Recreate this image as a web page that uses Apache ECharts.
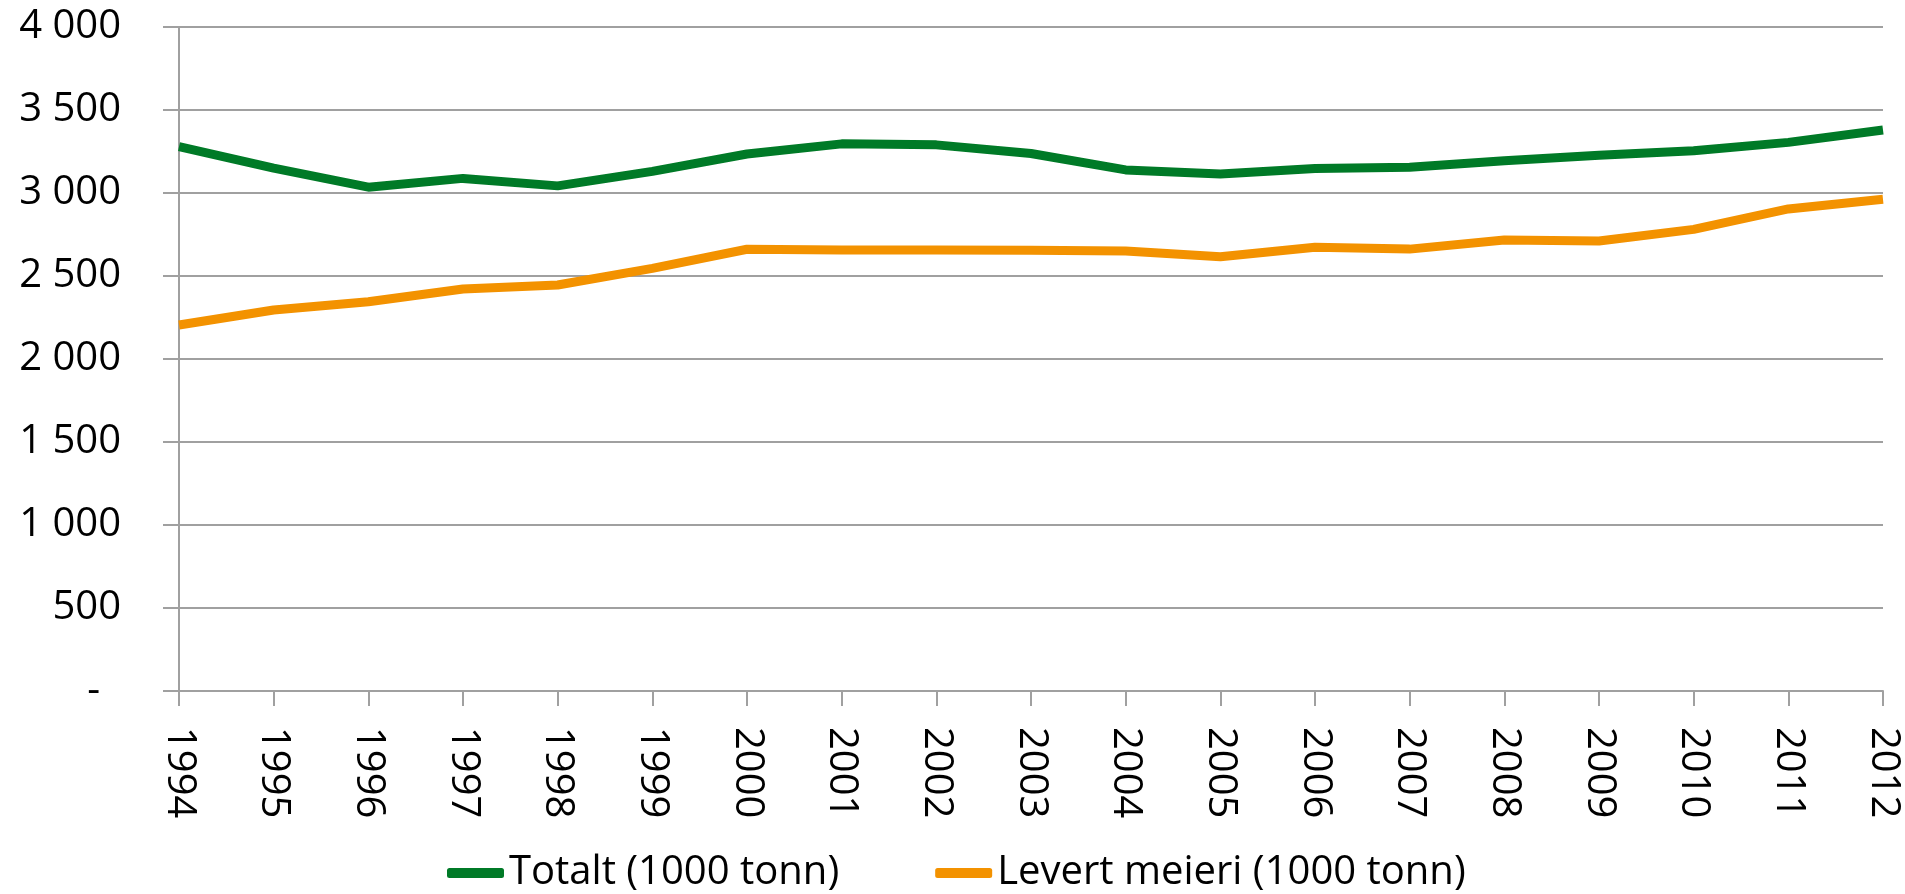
<!DOCTYPE html>
<html>
<head>
<meta charset="utf-8">
<script src="https://cdn.jsdelivr.net/npm/echarts@6/dist/echarts.min.js"></script>
<style>
  html, body { margin: 0; padding: 0; background: #fff; }
  #chart { width: 1905px; height: 894px; }
</style>
</head>
<body>
<div id="chart"></div>
<script>
// Melkeproduksjon 1994-2012
const years = ['1994', '1995', '1996', '1997', '1998', '1999', '2000', '2001', '2002', '2003',
    '2004', '2005', '2006', '2007', '2008', '2009', '2010', '2011', '2012'];
const totalt = [3279, 3150, 3035, 3088, 3043, 3130, 3235, 3296, 3290, 3238,
    3139, 3115, 3148, 3155, 3194, 3228, 3255, 3305, 3380];
const levertMeieri = [2205, 2295, 2345, 2422, 2446, 2546, 2661, 2657, 2657, 2655,
    2650, 2616, 2673, 2662, 2717, 2711, 2781, 2904, 2962];

const font = '"Open Sans", "DejaVu Sans", sans-serif';

// tusenskille med mellomrom, null vises som "-"
function fmt(v) {
    if (v === 0) return '-\u00a0\u00a0';
    return String(v).replace(/\B(?=(\d{3})+(?!\d))/g, ' ');
}

const chart = echarts.init(document.getElementById('chart'));

const option = {
    animation: false,
    grid: { left: 179, right: 22, top: 27, bottom: 203 },
    legend: {
        left: 442,
        top: 848,
        itemWidth: 57,
        itemHeight: 10,
        itemGap: 96,
        icon: 'roundRect',
        textStyle: { fontFamily: font, fontSize: 40, color: '#000' },
        data: ['Totalt (1000 tonn)', 'Levert meieri (1000 tonn)']
    },
    xAxis: {
        type: 'category',
        data: years,
        boundaryGap: false,
        axisLine: { lineStyle: { color: '#a0a0a0', width: 2 } },
        axisTick: { show: true, length: 15, lineStyle: { color: '#a0a0a0', width: 2 } },
        axisLabel: {
            rotate: -90,
            margin: 36,
            fontFamily: font,
            fontSize: 40,
            color: '#000'
        },
        splitLine: { show: false }
    },
    yAxis: {
        type: 'value',
        min: 0,
        max: 4000,
        interval: 500,
        axisLine: { show: true, lineStyle: { color: '#a0a0a0', width: 2 } },
        axisTick: { show: true, length: 16, lineStyle: { color: '#a0a0a0', width: 2 } },
        axisLabel: {
            margin: 58,
            fontFamily: font,
            fontSize: 40,
            color: '#000',
            formatter: fmt
        },
        splitLine: { lineStyle: { color: '#a0a0a0', width: 2 } }
    },
    series: [
        {
            name: 'Totalt (1000 tonn)',
            type: 'line',
            data: totalt,
            symbol: 'none',
            lineStyle: { color: '#007a27', width: 9 },
            itemStyle: { color: '#007a27' }
        },
        {
            name: 'Levert meieri (1000 tonn)',
            type: 'line',
            data: levertMeieri,
            symbol: 'none',
            lineStyle: { color: '#f39200', width: 9 },
            itemStyle: { color: '#f39200' }
        }
    ]
};

chart.setOption(option);

window.addEventListener('resize', () => {
    chart.resize();
});
</script>
</body>
</html>
